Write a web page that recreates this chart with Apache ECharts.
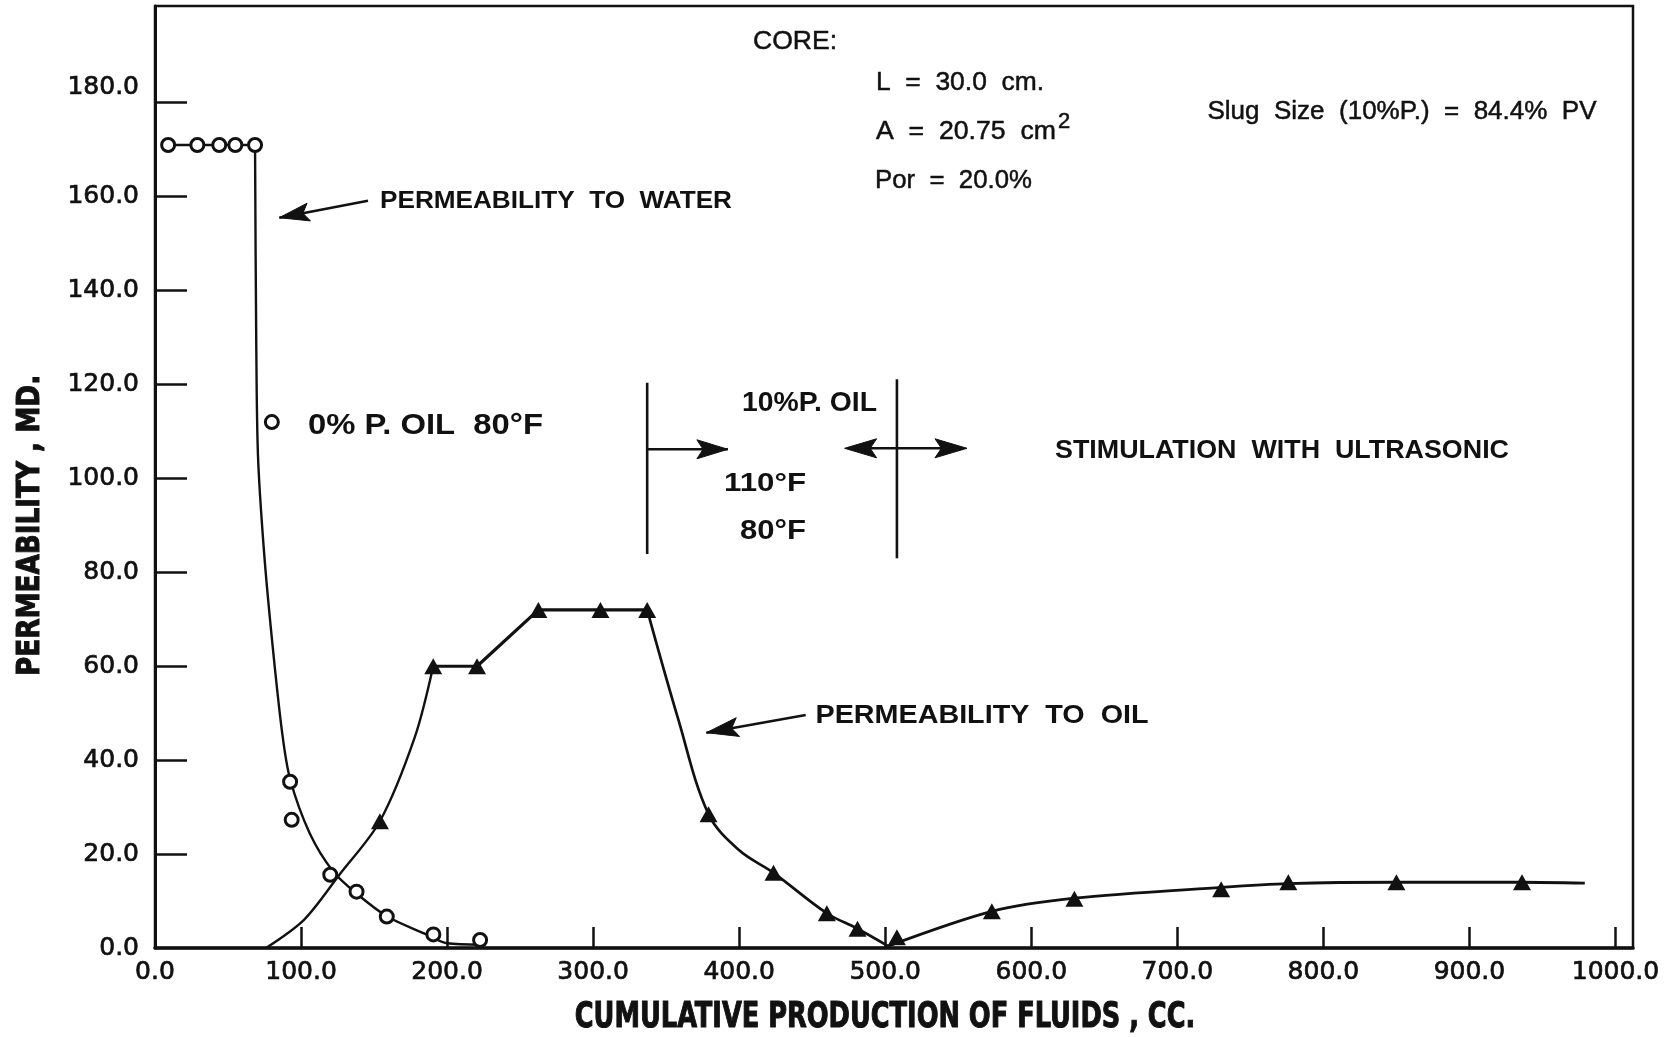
<!DOCTYPE html>
<html>
<head>
<meta charset="utf-8">
<title>Permeability vs. cumulative production</title>
<script src="https://cdn.jsdelivr.net/npm/echarts@6/dist/echarts.min.js"></script>
<style>
  html, body { margin: 0; padding: 0; background: #fff; }
  #chart { width: 1666px; height: 1037px; }
</style>
</head>
<body>
<div id="chart"></div>
<script>
// ---- axis ticks and labels ----
const xTickValues = [100, 200, 300, 400, 500, 600, 700, 800, 900, 1000];
const xLabelValues = [0, 100, 200, 300, 400, 500, 600, 700, 800, 900, 1000];
const yTickValues = [20, 40, 60, 80, 100, 120, 140, 160, 180];
const yLabelValues = [0, 20, 40, 60, 80, 100, 120, 140, 160, 180];

// ---- measured permeability, [cumulative cc, md] ----
const waterPerm = [[9, 171], [29, 171], [44, 171], [55, 171], [68.5, 171], [80, 112],
  [92.5, 35.4], [93.6, 27.3], [120, 15.6], [138, 12], [158.7, 6.7], [190.6, 2.9], [222.6, 1.7]];
const oilPerm = [[154, 27], [190.5, 60], [220.5, 60], [262.5, 72], [305, 72], [337, 72],
  [379, 28.5], [423.5, 16], [460, 7.4], [481, 4.1], [508, 2.3], [573, 7.8], [629.5, 10.5],
  [730, 12.5], [776, 14], [850, 14], [936, 14]];

// ---- faired trend curves drawn through the measurements ----
const waterTrendFlat = [[9, 171], [68.5, 171]];
const waterTrendFall = [[68.5, 171], [69.3, 130], [70.5, 105], [74.5, 85], [80, 66], [87, 46],
  [92.5, 36], [106, 24.4], [122, 16.3], [138, 11.6], [159, 6.7], [185, 3], [200, 1], [223, 0.7]];
const oilTrendRise = [[76, 0], [102, 6], [126, 15.5], [154, 27], [178, 45], [190.5, 60]];
const oilTrendPlateau = [[190.5, 60], [220.5, 60], [262.5, 72], [337, 72]];
const oilTrendFall = [[337, 72], [358, 49], [379, 28.5], [400, 20.8], [423.5, 16], [460, 7.4],
  [481, 4.1], [502, 0.4]];
const oilTrendRecovery = [[502, 0.4], [573, 7.8], [629.5, 10.6], [730, 12.9], [776, 13.7],
  [850, 14], [936, 14], [979, 13.8]];

// phase boundaries (cumulative cc): start of 10% P. oil, start of ultrasonic stimulation
const phaseBoundaries = [337, 508];

const INK = '#111111';
const LABEL_FONT = '"DejaVu Sans", sans-serif';
const TYPE_FONT = '"Liberation Sans", Arial, sans-serif';
const HEAVY_FONT = '"DejaVu Sans Condensed", "Liberation Sans Narrow", "DejaVu Sans", sans-serif';

const chart = echarts.init(document.getElementById('chart'), null, { renderer: 'canvas' });

function trend(data, smooth, width) {
  return {
    type: 'line', data: data, smooth: smooth || false,
    symbol: 'none', silent: true, z: 2,
    lineStyle: { color: INK, width: width }
  };
}

const tickLabel = {
  color: INK, fontFamily: LABEL_FONT, fontSize: 25,
  textBorderColor: INK, textBorderWidth: 0.7
};

chart.setOption({
  animation: false,
  backgroundColor: '#fff',
  grid: {
    left: 155, right: 33, top: 6, bottom: 89,
    show: true, borderColor: INK, borderWidth: 2.5, backgroundColor: 'transparent',
    outerBoundsMode: 'none'
  },
  xAxis: {
    type: 'value', min: 0, max: 1012,
    axisLine: { show: true, lineStyle: { color: INK, width: 3.5 } },
    axisTick: { show: true, inside: true, length: 21, customValues: xTickValues,
      lineStyle: { color: INK, width: 2.5 } },
    axisLabel: Object.assign({ customValues: xLabelValues, margin: 12,
      formatter: v => v.toFixed(1) }, tickLabel),
    splitLine: { show: false }
  },
  yAxis: {
    type: 'value', min: 0, max: 200.6,
    axisLine: { show: true, lineStyle: { color: INK, width: 3 } },
    axisTick: { show: true, inside: true, length: 32, customValues: yTickValues,
      lineStyle: { color: INK, width: 2.5 } },
    axisLabel: Object.assign({
      customValues: yLabelValues, margin: 16,
      formatter: v => v === 180 ? '{raised|180.0}' : v.toFixed(1),
      rich: { raised: Object.assign({ padding: [0, 0, 30, 0] }, tickLabel) }
    }, tickLabel),
    splitLine: { show: false }
  },
  series: [
    trend(waterTrendFlat, false, 2.5),
    trend(waterTrendFall, 0.3, 2.4),
    trend(oilTrendRise, 0.3, 2.4),
    trend(oilTrendPlateau, false, 3.2),
    trend(oilTrendFall, 0.35, 2.7),
    trend(oilTrendRecovery, 0.3, 2.8),
    {
      name: 'Permeability to water', type: 'scatter', data: waterPerm, z: 5,
      symbol: 'circle', symbolSize: 13,
      itemStyle: { color: '#fff', borderColor: INK, borderWidth: 3, opacity: 1 }
    },
    {
      name: 'Permeability to oil', type: 'scatter', data: oilPerm, z: 5,
      symbol: 'triangle', symbolSize: [18, 16],
      itemStyle: { color: INK, opacity: 1 }
    }
  ]
});

// ---- annotations ----
const measureCtx = document.createElement('canvas').getContext('2d');
function textWidth(text, font) {
  measureCtx.font = font;
  return measureCtx.measureText(text).width;
}
function label(text, o) {
  const font = (o.weight || 'normal') + ' ' + o.size + 'px ' + o.family;
  const sx = o.width ? o.width / textWidth(text, font) : 1;
  return {
    type: 'text', x: o.x, y: o.y, rotation: o.rotation || 0, scaleX: sx, z: 20, silent: true,
    style: {
      text: text, font: font, fill: INK, align: o.align || 'left', verticalAlign: 'middle',
      stroke: o.stroke ? INK : null, lineWidth: o.stroke || 0
    }
  };
}
function arrowHead(from, tip, len, half) {
  const dx = tip[0] - from[0], dy = tip[1] - from[1];
  const d = Math.hypot(dx, dy), ux = dx / d, uy = dy / d;
  const bx = tip[0] - ux * len, by = tip[1] - uy * len;
  const nx = tip[0] - ux * len * 0.8, ny = tip[1] - uy * len * 0.8;
  return {
    type: 'polygon', z: 20, silent: true,
    shape: { points: [tip, [bx - uy * half, by + ux * half], [nx, ny], [bx + uy * half, by - ux * half]] },
    style: { fill: INK, stroke: INK, lineWidth: 1 }
  };
}
function segment(a, b, w) {
  return { type: 'line', z: 20, silent: true,
    shape: { x1: a[0], y1: a[1], x2: b[0], y2: b[1] },
    style: { stroke: INK, lineWidth: w || 2.6 } };
}
function arrow(from, tip, len, half) {
  return [segment(from, tip), arrowHead(from, tip, len, half)];
}

const bx1 = chart.convertToPixel({ xAxisIndex: 0 }, phaseBoundaries[0]);
const bx2 = chart.convertToPixel({ xAxisIndex: 0 }, phaseBoundaries[1]);

const typed = { family: TYPE_FONT, size: 26, stroke: 0.5 };
const lettered = { family: TYPE_FONT, weight: 'bold' };

const graphics = [
  // core description
  label('CORE:', Object.assign({ x: 753, y: 42, width: 84 }, typed)),
  label('L  =  30.0  cm.', Object.assign({ x: 876, y: 82.5, width: 168 }, typed)),
  label('A  =  20.75  cm', Object.assign({ x: 876, y: 132, width: 180 }, typed)),
  label('2', Object.assign({}, typed, { x: 1058, y: 122, size: 22 })),
  label('Por  =  20.0%', Object.assign({ x: 875, y: 180.5, width: 157 }, typed)),
  label('Slug  Size  (10%P.)  =  84.4%  PV', Object.assign({ x: 1207.5, y: 112, width: 389 }, typed)),

  // curve call-outs
  label('PERMEABILITY  TO  WATER', Object.assign({ x: 380, y: 201.5, size: 24, width: 352 }, lettered)),
  ...arrow([368, 200.7], [279.3, 217.7], 30, 9),
  label('PERMEABILITY  TO  OIL', Object.assign({ x: 815.5, y: 716, size: 25, width: 333 }, lettered)),
  ...arrow([805.7, 715], [706.4, 732.7], 32, 9.5),

  // run phases
  label('0% P. OIL  80°F', Object.assign({ x: 308, y: 425.5, size: 30, width: 235 }, lettered)),
  segment([bx1, 382.7], [bx1, 554]),
  ...arrow([bx1, 449.3], [727.9, 449.3], 31, 9.5),
  label('10%P. OIL', Object.assign({ x: 742, y: 403.5, size: 27, width: 135 }, lettered)),
  label('110°F', Object.assign({ x: 724, y: 484.5, size: 25, width: 82 }, lettered)),
  label('80°F', Object.assign({ x: 740, y: 531.5, size: 27, width: 66 }, lettered)),
  segment([bx2, 379.3], [bx2, 558.3]),
  segment([848, 448.3], [963, 448.3]),
  arrowHead([967, 448.3], [844.6, 448.3], 32, 9.5),
  arrowHead([844.6, 448.3], [967, 448.3], 32, 9.5),
  label('STIMULATION  WITH  ULTRASONIC', Object.assign({ x: 1055, y: 451, size: 25, width: 454 }, lettered)),

  // axis titles
  label('PERMEABILITY , MD.', { x: 30.8, y: 525.4, size: 32, weight: 'bold', family: HEAVY_FONT,
    width: 301, align: 'center', rotation: Math.PI / 2, stroke: 1 }),
  label('CUMULATIVE PRODUCTION OF FLUIDS , CC.', { x: 885, y: 1018, size: 35, weight: 'bold',
    family: HEAVY_FONT, width: 620.5, align: 'center', stroke: 1 })
];

chart.setOption({ graphic: { elements: graphics } });
</script>
</body>
</html>
